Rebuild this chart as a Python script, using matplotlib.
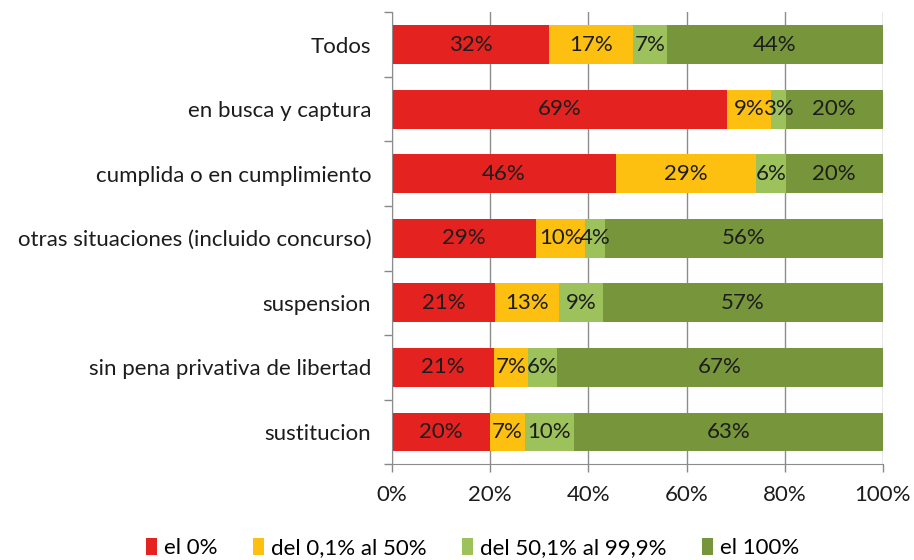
import numpy as np
import matplotlib.pyplot as plt

plt.rcParams['font.family'] = ['Lato', 'DejaVu Sans']

categories = ["Todos", "en busca y captura", "cumplida o en cumplimiento",
              "otras situaciones (incluido concurso)", "suspension",
              "sin pena privativa de libertad", "sustitucion"]
series_names = ["el 0%", "del 0,1% al 50%", "del 50,1% al 99,9%", "el 100%"]
el_0 = [32, 69, 46, 29, 21, 21, 20]
del_01_50 = [17, 9, 29, 10, 13, 7, 7]
del_501_999 = [7, 3, 6, 4, 9, 6, 10]
el_100 = [44, 20, 20, 56, 57, 67, 63]
xticks = [0, 20, 40, 60, 80, 100]

colors = ["#E42320", "#FDC010", "#9DC15B", "#77953A"]
fs = 16

data = np.array([el_0, del_01_50, del_501_999, el_100], dtype=float)
shares = data / data.sum(axis=0) * 100  # 100% stacked

fig = plt.figure(figsize=(9.14, 5.6), dpi=100)
ax = fig.add_axes([0.4289, 0.171, 0.537, 0.807])

y = np.arange(len(categories))
left = np.zeros(len(categories))
for vals, raw, name, c in zip(shares, data, series_names, colors):
    ax.barh(y, vals, left=left, height=0.6, color=c, label=name, zorder=2)
    for yi, l, v, r in zip(y, left, vals, raw):
        ax.text(l + v / 2, yi, f"{int(r)}%", ha='center', va='center',
                fontsize=fs, color='#1c1c1c', zorder=3)
    left += vals

ax.set_xlim(0, 100)
ax.set_ylim(len(categories) - 0.5, -0.5)
ax.set_xticks(xticks)
ax.set_xticklabels([f"{t}%" for t in xticks], fontsize=fs, color='#1c1c1c')
ax.set_yticks(y)
ax.set_yticklabels(categories, fontsize=fs, color='#1c1c1c')
ax.tick_params(axis='y', length=0, pad=15)
ax.set_yticks(np.arange(-0.5, len(categories)), minor=True)
ax.tick_params(axis='y', which='minor', length=6, color='#888888', width=1)
ax.tick_params(axis='x', length=6, color='#888888', width=1, pad=9)
ax.grid(axis='x', color='#8c8c8c', linewidth=1, zorder=0)
for side in ['top', 'right']:
    ax.spines[side].set_visible(False)
for side in ['left', 'bottom']:
    ax.spines[side].set_color('#8c8c8c')

fig.legend(loc='center', bbox_to_anchor=(0.517, 0.022), ncol=4, frameon=False,
           fontsize=fs, handlelength=0.5, handleheight=0.8, handletextpad=0.3,
           columnspacing=1.6)

fig.savefig("out.png", dpi=100)
